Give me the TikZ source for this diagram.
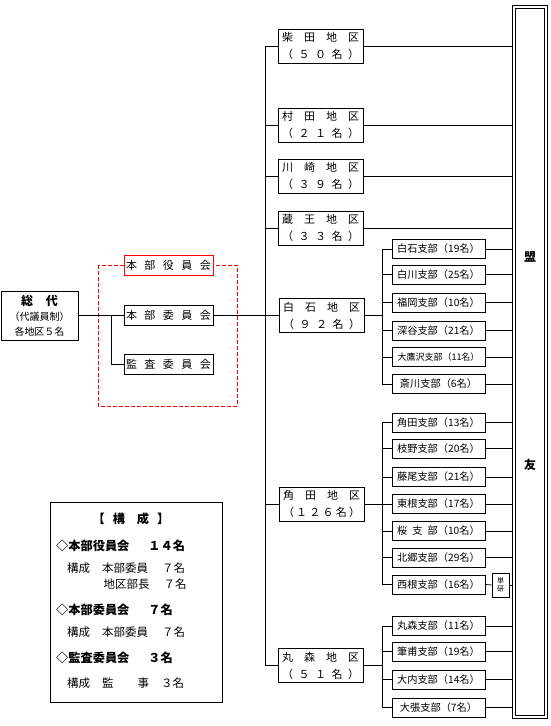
\documentclass[tikz,border=0pt]{standalone}
\usepackage{fontspec}
\setmainfont{Noto Sans CJK JP}
\usetikzlibrary{positioning,calc}
\definecolor{kmline}{RGB}{0,0,0}
\definecolor{kmred}{RGB}{255,0,0}
\newcommand{\sk}[1]{\hspace{#1pt}}
\tikzset{
  kmbox/.style={
    draw=kmline, line width=0.8pt, fill=white,
    inner sep=0pt, align=center
  },
  dist/.style={kmbox, minimum width=85pt, minimum height=34pt,
    font=\fontsize{11}{17}\selectfont},
  shibu/.style={kmbox, minimum width=93pt, minimum height=19pt,
    font=\fontsize{10.2}{12}\selectfont},
  hon/.style={kmbox, minimum width=89pt, minimum height=20pt,
    font=\fontsize{11}{13}\selectfont},
  ln/.style={draw=kmline, line width=0.8pt},
  leg/.style={anchor=west, inner sep=0pt, font=\fontsize{11.5}{13}\selectfont},
  leghd/.style={leg, font=\fontsize{12.2}{14}\selectfont\bfseries}
}

\begin{document}
\begin{tikzpicture}[x=1pt, y=-1pt]
  \useasboundingbox (0,0) rectangle (551,726);

  % left: sodai and honbu
  \node[kmbox, minimum width=77pt, minimum height=49pt,
    font=\fontsize{10}{15}\selectfont] (sodai) at (39.5,315.5)
    {{\fontsize{12}{14}\selectfont\bfseries 総\sk{13}代}\\（代議員制）\\各地区５名};
  \draw[kmred, line width=0.8pt, dash pattern=on 4pt off 2pt]
    (98,265) rectangle (237,406);
  \node[hon, draw=kmred] (yakuin) at (168.5,265.5) {本\sk{7.5}部\sk{7.5}役\sk{7.5}員\sk{7.5}会};
  \node[hon] (iinkai) at (168.5,315.5) {本\sk{7.5}部\sk{7.5}委\sk{7.5}員\sk{7.5}会};
  \node[hon] (kansa) at (168.5,364) {監\sk{7.5}査\sk{7.5}委\sk{7.5}員\sk{7.5}会};
  \coordinate (kbr) at (111,0);
  \draw[ln] (sodai.east) -- (iinkai.west);
  \draw[ln] (iinkai.west -| kbr) -- (kansa.west -| kbr) -- (kansa.west);

  % districts
  \node[dist] (shibata) at (320.5,46) {柴\sk{11}田\sk{11}地\sk{11}区\\（\sk{5.5}５\sk{5.5}０\sk{5.5}名\sk{5.5}）};
  \node[dist] (murata) at (320.5,125) {村\sk{11}田\sk{11}地\sk{11}区\\（\sk{5.5}２\sk{5.5}１\sk{5.5}名\sk{5.5}）};
  \node[dist] (kawasaki) at (320.5,176) {川\sk{11}崎\sk{11}地\sk{11}区\\（\sk{5.5}３\sk{5.5}９\sk{5.5}名\sk{5.5}）};
  \node[dist] (zao) at (320.5,228) {蔵\sk{11}王\sk{11}地\sk{11}区\\（\sk{5.5}３\sk{5.5}３\sk{5.5}名\sk{5.5}）};
  \node[dist] (shiroishi) at (321.5,315.5) {白\sk{11}石\sk{11}地\sk{11}区\\（\sk{5.5}９\sk{5.5}２\sk{5.5}名\sk{5.5}）};
  \node[dist] (kakuda) at (321.5,504) {角\sk{11}田\sk{11}地\sk{11}区\\（\sk{2.2}１\sk{2.2}２\sk{2.2}６\sk{2.2}名\sk{2.2}）};
  \node[dist] (marumori) at (320.5,665.5) {丸\sk{11}森\sk{11}地\sk{11}区\\（\sk{5.5}５\sk{5.5}１\sk{5.5}名\sk{5.5}）};
  \coordinate (trk) at (265,0);
  \draw[ln] (iinkai.east) -- (shiroishi.west);
  \draw[ln] (shibata.west) -- (shibata.west -| trk) -- (marumori.west -| trk) -- (marumori.west);
  \draw[ln] (murata.west) -- (murata.west -| trk);
  \draw[ln] (kawasaki.west) -- (kawasaki.west -| trk);
  \draw[ln] (zao.west) -- (zao.west -| trk);
  \draw[ln] (kakuda.west) -- (kakuda.west -| trk);

  % shiroishi branches
  \node[shibu] (s1) at (438.5,249) {白石支部（19名）};
  \node[shibu] (s2) at (438.5,274.5) {白川支部（25名）};
  \node[shibu] (s3) at (438.5,302.5) {福岡支部（10名）};
  \node[shibu] (s4) at (438.5,330.5) {深谷支部（21名）};
  \node[shibu, font=\fontsize{9}{11}\selectfont] (s5) at (438.5,357) {大鷹沢支部（11名）};
  \node[shibu] (s6) at (438.5,384) {斎川支部（6名）};
  \coordinate (sbr) at (382,0);
  \draw[ln] (shiroishi.east) -- (shiroishi.east -| sbr);
  \draw[ln] (s1.west) -- (s1.west -| sbr) -- (s6.west -| sbr) -- (s6.west);
  \draw[ln] (s2.west) -- (s2.west -| sbr);
  \draw[ln] (s3.west) -- (s3.west -| sbr);
  \draw[ln] (s4.west) -- (s4.west -| sbr);
  \draw[ln] (s5.west) -- (s5.west -| sbr);

  % kakuda branches
  \node[shibu] (k1) at (438.5,422.5) {角田支部（13名）};
  \node[shibu] (k2) at (438.5,448.5) {枝野支部（20名）};
  \node[shibu] (k3) at (438.5,477) {藤尾支部（21名）};
  \node[shibu] (k4) at (438.5,504) {東根支部（17名）};
  \node[shibu] (k5) at (438.5,531) {桜\sk{5}支\sk{5}部（10名）};
  \node[shibu] (k6) at (438.5,557.5) {北郷支部（29名）};
  \node[shibu] (k7) at (438.5,584.5) {西根支部（16名）};
  \draw[ln] (kakuda.east) -- (k4.west);
  \draw[ln] (k1.west) -- (k1.west -| sbr) -- (k7.west -| sbr) -- (k7.west);
  \draw[ln] (k2.west) -- (k2.west -| sbr);
  \draw[ln] (k3.west) -- (k3.west -| sbr);
  \draw[ln] (k5.west) -- (k5.west -| sbr);
  \draw[ln] (k6.west) -- (k6.west -| sbr);

  % marumori branches
  \node[shibu] (m1) at (438.5,626) {丸森支部（11名）};
  \node[shibu] (m2) at (438.5,651.5) {筆甫支部（19名）};
  \node[shibu] (m3) at (438.5,679.5) {大内支部（14名）};
  \node[shibu] (m4) at (438.5,707.5) {大張支部（7名）};
  \draw[ln] (marumori.east) -- (marumori.east -| sbr);
  \draw[ln] (m1.west) -- (m1.west -| sbr) -- (m4.west -| sbr) -- (m4.west);
  \draw[ln] (m2.west) -- (m2.west -| sbr);
  \draw[ln] (m3.west) -- (m3.west -| sbr);

  % domei
  \node[kmbox, minimum width=17pt, minimum height=24pt,
    font=\fontsize{7}{7.5}\selectfont] (tanken) at (500.5,585) {単\\研};
  \coordinate (dm) at (514,0);
  \draw[ln] (shibata.east) -- (shibata.east -| dm);
  \draw[ln] (murata.east) -- (murata.east -| dm);
  \draw[ln] (kawasaki.east) -- (kawasaki.east -| dm);
  \draw[ln] (zao.east) -- (zao.east -| dm);
  \foreach \b in {s1,s2,s3,s4,s5,s6,k1,k2,k3,k4,k5,k6,m1,m2,m3,m4}
    \draw[ln] (\b.east) -- (\b.east -| dm);
  \draw[ln] (k7.east) -- (tanken.west);
  \draw[ln] (tanken.east) -- (tanken.east -| dm);
  \node[kmbox, double, double distance=2pt, minimum width=32pt,
    minimum height=710pt] (domei) at (530,362) {};
  \node[font=\fontsize{12}{14}\selectfont\bfseries] (mei) at (530,257) {盟};
  \node[font=\fontsize{12}{14}\selectfont\bfseries] (yu) at (530,465) {友};

  % legend
  \node[kmbox, minimum width=172pt, minimum height=200pt] (kosei) at (136,602) {};
  \node[leghd, anchor=center] (kttl) at (131,519) {【\sk{8}構\sk{12}成\sk{8}】};
  \node[leghd] (l1) at (56,546) {◇本部役員会\sk{19}１４名};
  \node[leg] (l2) at (67,568) {構成\sk{12}本部委員\sk{14}７名};
  \node[leg] (l3) at (103.5,584) {地区部長\sk{14}７名};
  \node[leghd] (l4) at (56,610) {◇本部委員会\sk{19}７名};
  \node[leg] (l5) at (67,632) {構成\sk{12}本部委員\sk{14}７名};
  \node[leghd] (l6) at (56,658) {◇監査委員会\sk{19}３名};
  \node[leg] (l7) at (67,683) {構成\sk{12}監\sk{24}事\sk{12}３名};
\end{tikzpicture}
\end{document}
